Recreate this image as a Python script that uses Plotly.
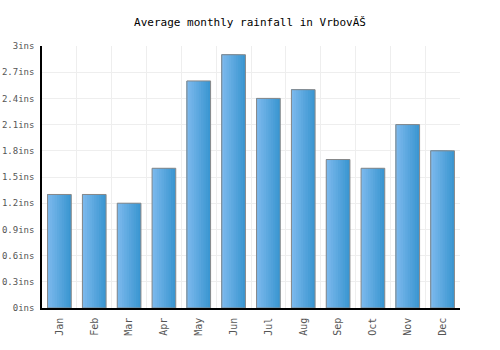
import plotly.graph_objects as go

months = ["Jan", "Feb", "Mar", "Apr", "May", "Jun", "Jul", "Aug", "Sep", "Oct", "Nov", "Dec"]
rainfall = [1.3, 1.3, 1.2, 1.6, 2.6, 2.9, 2.4, 2.5, 1.7, 1.6, 2.1, 1.8]
y_ticks = [0, 0.3, 0.6, 0.9, 1.2, 1.5, 1.8, 2.1, 2.4, 2.7, 3]
y_labels = ["0ins", "0.3ins", "0.6ins", "0.9ins", "1.2ins", "1.5ins", "1.8ins",
            "2.1ins", "2.4ins", "2.7ins", "3ins"]

W = 0.68
N = 10
dark = (0x3b, 0x96, 0xd1)
light = (0x7a, 0xb8, 0xec)

fig = go.Figure()
for i in range(N):
    t = i / (N - 1)
    c = tuple(round(dark[k] + (light[k] - dark[k]) * t) for k in range(3))
    w = W * (N - i) / N
    fig.add_trace(go.Bar(
        x=months, y=rainfall, width=w, offset=-W / 2,
        marker=dict(color="rgb(%d,%d,%d)" % c, line=dict(width=0)),
        hoverinfo="skip", showlegend=False,
    ))
fig.add_trace(go.Bar(
    x=months, y=rainfall, width=W, offset=-W / 2,
    marker=dict(color="rgba(0,0,0,0)", line=dict(color="#888888", width=1)),
    showlegend=False,
))

fig.update_layout(
    width=500, height=350,
    barmode="overlay",
    margin=dict(l=42, r=40, t=46, b=42),
    paper_bgcolor="white", plot_bgcolor="white",
    font=dict(family="DejaVu Sans Mono", size=10, color="#555555"),
    title=dict(text="Average monthly rainfall in VrbovĂŠ", x=0.5, xanchor="center",
               y=1 - 22 / 350, yanchor="middle",
               font=dict(family="DejaVu Sans Mono", size=11, color="#000000")),
    xaxis=dict(
        type="category", tickson="boundaries", showgrid=True, gridcolor="#eeeeee",
        ticks="", tickangle=-90, showline=True, linecolor="#000000", linewidth=1.5,
        range=[-0.5, 11.5], automargin=False, ticklabelstandoff=4,
    ),
    yaxis=dict(
        range=[0, 3], tickvals=y_ticks, ticktext=y_labels, showgrid=True,
        gridcolor="#eeeeee", showline=True, linecolor="#000000", linewidth=1.5,
        ticks="", zeroline=False, automargin=False, ticklabelstandoff=4,
        tickfont=dict(size=9),
    ),
)

fig.write_html("out.html")
